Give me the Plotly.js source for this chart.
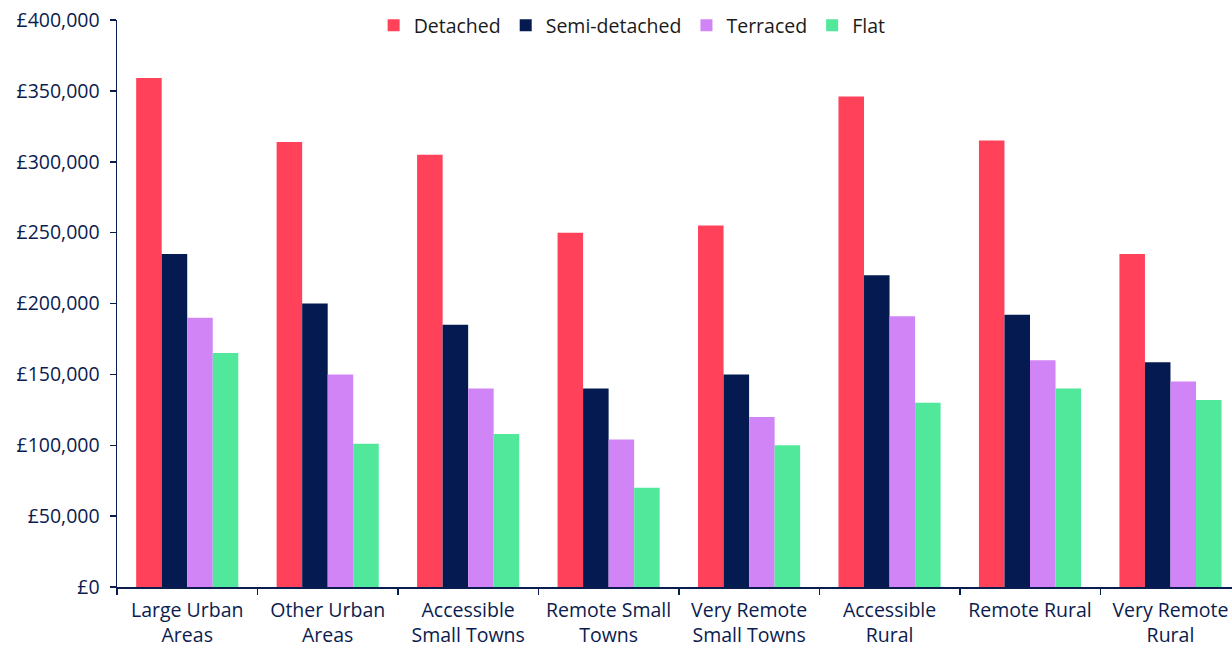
<!DOCTYPE html>
<html>
<head>
<meta charset="utf-8">
<script src="https://cdn.plot.ly/plotly-3.0.1.min.js"></script>
<style>
  html, body { margin: 0; padding: 0; background: #ffffff; }
  #chart { width: 1232px; height: 646px; }
</style>
</head>
<body>
<div id="chart"></div>
<script>
// Average house price by property type across urban/rural classification
const categories = [
  'Large Urban<br>Areas',
  'Other Urban<br>Areas',
  'Accessible<br>Small Towns',
  'Remote Small<br>Towns',
  'Very Remote<br>Small Towns',
  'Accessible<br>Rural',
  'Remote Rural',
  'Very Remote<br>Rural'
];

const detached     = [359000, 314000, 305000, 250000, 255000, 346000, 315000, 235000];
const semiDetached = [235000, 200000, 185000, 140000, 150000, 220000, 192000, 158500];
const terraced     = [190000, 150000, 140000, 104000, 120000, 191000, 160000, 145000];
const flat         = [165000, 101000, 108000, 70000, 100000, 130000, 140000, 132000];

const seriesNames = ['Detached', 'Semi-detached', 'Terraced', 'Flat'];
const seriesValues = [detached, semiDetached, terraced, flat];
const seriesColors = ['#ff415a', '#041a50', '#d084f5', '#52e89b'];

const navy = '#0b1c4f';
const fontFamily = '"Open Sans", "Noto Sans", sans-serif';
const textSize = 19.5;

const traces = seriesNames.map((name, i) => ({
  type: 'bar',
  name: name,
  x: categories,
  y: seriesValues[i],
  marker: { color: seriesColors[i], line: { width: 0 } },
  hoverinfo: 'x+y+name'
}));

const layout = {
  width: 1232,
  height: 646,
  margin: { l: 117, r: 0, t: 20, b: 59 },
  paper_bgcolor: '#ffffff',
  plot_bgcolor: '#ffffff',
  barmode: 'group',
  bargap: 0.273,
  bargroupgap: 0,
  font: { family: fontFamily, size: textSize, color: navy },
  showlegend: true,
  legend: {
    orientation: 'h',
    x: 0.462,
    xanchor: 'center',
    y: 0.99,
    yanchor: 'middle',
    font: { family: fontFamily, size: textSize, color: '#1a1a1a' },
    bgcolor: 'rgba(0,0,0,0)',
    itemwidth: 30,
    traceorder: 'normal'
  },
  xaxis: {
    type: 'category',
    range: [-0.5, 7.438],
    showline: true,
    linecolor: navy,
    linewidth: 1.5,
    ticks: 'outside',
    tickson: 'boundaries',
    ticklen: 6,
    tickcolor: navy,
    tickwidth: 1.5,
    tickangle: 0,
    ticklabelstandoff: 5,
    showgrid: false,
    zeroline: false,
    automargin: false,
    tickfont: { family: fontFamily, size: textSize, color: navy }
  },
  yaxis: {
    range: [0, 400000],
    dtick: 50000,
    tick0: 0,
    tickprefix: '£',
    tickformat: ',d',
    showline: true,
    linecolor: navy,
    linewidth: 1.5,
    ticks: 'outside',
    ticklen: 6,
    tickcolor: navy,
    tickwidth: 1.5,
    ticklabelstandoff: 6,
    showgrid: false,
    zeroline: false,
    automargin: false,
    tickfont: { family: fontFamily, size: textSize, color: navy }
  }
};

Plotly.newPlot('chart', traces, layout, { displayModeBar: false, staticPlot: true });
</script>
</body>
</html>
